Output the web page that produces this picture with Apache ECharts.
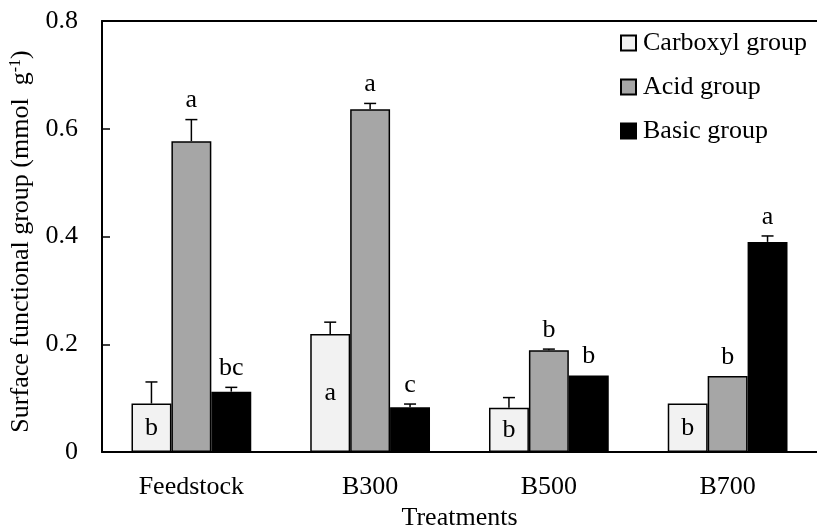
<!DOCTYPE html>
<html>
<head>
<meta charset="utf-8">
<script src="https://cdn.jsdelivr.net/npm/echarts@6/dist/echarts.min.js"></script>
<style>
  html, body { margin: 0; padding: 0; background: #fff; overflow: hidden; }
  #chart { width: 817px; height: 529px; }
</style>
</head>
<body>
<div id="chart"></div>
<script>
// data
var categories = ['Feedstock', 'B300', 'B500', 'B700']
var yTicks = [0, 0.2, 0.4, 0.6, 0.8]

var carboxyl = [0.090, 0.219, 0.082, 0.090]
var carboxylErr = [0.040, 0.022, 0.019, 0]
var carboxylLetters = ['b', 'a', 'b', 'b']

var acid = [0.577, 0.636, 0.189, 0.141]
var acidErr = [0.040, 0.011, 0.002, 0]
var acidLetters = ['a', 'a', 'b', 'b']

var basic = [0.112, 0.083, 0.142, 0.390]
var basicErr = [0.008, 0.006, 0, 0.011]
var basicLetters = ['bc', 'c', 'b', 'a']

var FONT = 'Liberation Serif'
var FS = 26
var CAT_GAP = 0.33

function errData(vals, errs) {
  return vals.map(function (v, i) { return [i, v, errs[i]] })
}

// error bar (upper whisker only) + significance letter
function errRender(idx, letters, inside) {
  return function (params, api) {
    var cat = api.value(0), v = api.value(1), e = api.value(2)
    var bandW = api.size([1, 0])[0]
    var barW = bandW * (1 - CAT_GAP) / 3
    var x = api.coord([cat, 0])[0] + (idx - 1) * barW
    var yTop = api.coord([cat, v])[1]
    var yErr = api.coord([cat, v + e])[1]
    var children = []
    if (e > 0) {
      children.push({ type: 'line', shape: { x1: x, y1: yTop, x2: x, y2: yErr }, style: { stroke: '#000', lineWidth: 1.5 } })
      children.push({ type: 'line', shape: { x1: x - 6, y1: yErr, x2: x + 6, y2: yErr }, style: { stroke: '#000', lineWidth: 1.5 } })
    }
    var txt = letters[params.dataIndex]
    if (inside) {
      var yMid = api.coord([cat, v / 2])[1]
      children.push({ type: 'text', x: x, y: yMid, style: { text: txt, font: FS + 'px ' + FONT, fill: '#000', align: 'center', verticalAlign: 'middle' } })
    } else {
      children.push({ type: 'text', x: x, y: yErr - 6, style: { text: txt, font: FS + 'px ' + FONT, fill: '#000', align: 'center', verticalAlign: 'bottom' } })
    }
    return { type: 'group', children: children }
  }
}

var chart = echarts.init(document.getElementById('chart'))
chart.setOption({
  animation: false,
  textStyle: { fontFamily: FONT },
  grid: { left: 102, right: 0, top: 21, bottom: 77, outerBoundsMode: 'none' },
  legend: {
    orient: 'vertical',
    left: 620,
    top: 30,
    padding: 0,
    itemGap: 18,
    itemWidth: 15,
    itemHeight: 15,
    icon: 'rect',
    data: ['Carboxyl group', 'Acid group', 'Basic group'],
    textStyle: { fontFamily: FONT, fontSize: FS, color: '#000', padding: [0, 0, 0, 2] }
  },
  xAxis: [{
    type: 'category',
    data: categories,
    name: 'Treatments',
    nameLocation: 'middle',
    nameGap: 44,
    nameTextStyle: { fontFamily: FONT, fontSize: FS, color: '#000' },
    axisLine: { lineStyle: { color: '#000', width: 2 } },
    axisTick: { show: false },
    axisLabel: { fontFamily: FONT, fontSize: FS, color: '#000', margin: 22 }
  }, {
    type: 'category',
    position: 'top',
    data: categories,
    axisLine: { show: true, onZero: false, lineStyle: { color: '#000', width: 2 } },
    axisTick: { show: false },
    axisLabel: { show: false }
  }],
  yAxis: {
    type: 'value',
    min: yTicks[0],
    max: yTicks[yTicks.length - 1],
    interval: 0.2,
    name: 'Surface functional group (mmol  g{sup|-1})',
    nameLocation: 'middle',
    nameGap: 61,
    nameRotate: 90,
    nameTextStyle: {
      fontFamily: FONT, fontSize: FS, color: '#000', padding: [0, 10, 0, 0],
      rich: { sup: { fontFamily: FONT, fontSize: 16, color: '#000', verticalAlign: 'top', padding: [0, 0, 12, 0] } }
    },
    axisLine: { show: true, lineStyle: { color: '#000', width: 2 } },
    axisTick: { show: true, inside: true, length: 8, lineStyle: { color: '#000', width: 1.5 } },
    axisLabel: {
      fontFamily: FONT, fontSize: FS, color: '#000', margin: 24,
      formatter: function (v) { return v === 0 ? '0' : v.toFixed(1) }
    },
    splitLine: { show: false }
  },
  series: [
    { name: 'Carboxyl group', type: 'bar', data: carboxyl, barGap: 0, barCategoryGap: '33%',
      itemStyle: { color: '#f2f2f2', borderColor: '#000', borderWidth: 1.5 } },
    { name: 'Acid group', type: 'bar', data: acid, barGap: 0, barCategoryGap: '33%',
      itemStyle: { color: '#a6a6a6', borderColor: '#000', borderWidth: 1.5 } },
    { name: 'Basic group', type: 'bar', data: basic, barGap: 0, barCategoryGap: '33%',
      itemStyle: { color: '#000', borderColor: '#000', borderWidth: 1.5 } },
    { type: 'custom', data: errData(carboxyl, carboxylErr), renderItem: errRender(0, carboxylLetters, true), z: 5 },
    { type: 'custom', data: errData(acid, acidErr), renderItem: errRender(1, acidLetters, false), z: 5 },
    { type: 'custom', data: errData(basic, basicErr), renderItem: errRender(2, basicLetters, false), z: 5 }
  ]
})
</script>
</body>
</html>
